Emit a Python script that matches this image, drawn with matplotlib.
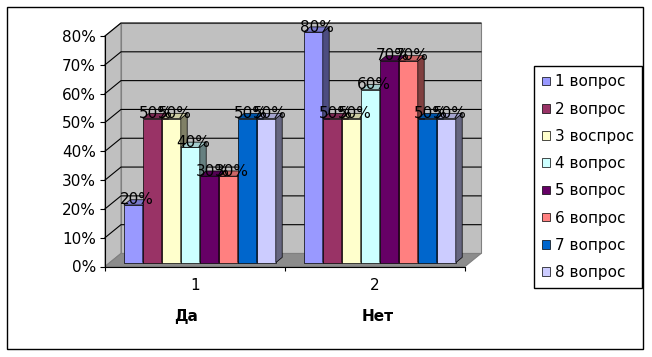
import numpy as np
import matplotlib
matplotlib.use('Agg')
import matplotlib.pyplot as plt
from matplotlib.patches import Polygon, Rectangle
from matplotlib.ticker import PercentFormatter

# Data
categories = ['1', '2']
answers = ['Да', 'Нет']
series = ['1 вопрос', '2 вопрос', '3 воспрос', '4 вопрос',
          '5 вопрос', '6 вопрос', '7 вопрос', '8 вопрос']
colors = ['#9999ff', '#993366', '#ffffcc', '#ccffff',
          '#660066', '#ff8080', '#0066cc', '#ccccff']
da = [0.2, 0.5, 0.5, 0.4, 0.3, 0.3, 0.5, 0.5]
net = [0.8, 0.5, 0.5, 0.6, 0.7, 0.7, 0.5, 0.5]
yticks = [0, 0.1, 0.2, 0.3, 0.4, 0.5, 0.6, 0.7, 0.8]


def shade(c, k):
    r, g, b = matplotlib.colors.to_rgb(c)
    return (r * k, g * k, b * k)


fig = plt.figure(figsize=(6.52, 3.57), dpi=100)
ax = fig.add_axes([105 / 652, (357 - 266.5) / 357, 360 / 652, 230.5 / 357])
ax.set_xlim(-0.5, 1.5)
ax.set_ylim(0, 0.8)
ax.patch.set_visible(False)

# pseudo 3d depth (in data units)
DX = 16 / 180
DY = 13 / 288.1
w = 19 / 180
z0, z1 = 0.3, 0.7
ddx, ddy = (z1 - z0) * DX, (z1 - z0) * DY

# walls and floor
ax.add_patch(Polygon([(-0.5 + DX, DY), (1.5 + DX, DY), (1.5 + DX, 0.8 + DY), (-0.5 + DX, 0.8 + DY)],
                     fc='#c0c0c0', ec='#808080', lw=0.8, clip_on=False, zorder=0))
ax.add_patch(Polygon([(-0.5, 0), (-0.5 + DX, DY), (-0.5 + DX, 0.8 + DY), (-0.5, 0.8)],
                     fc='#c0c0c0', ec='#808080', lw=0.8, clip_on=False, zorder=0))
ax.add_patch(Polygon([(-0.5, 0), (1.5, 0), (1.5 + DX, DY), (-0.5 + DX, DY)],
                     fc='#8c8c8c', ec='#808080', lw=0.8, clip_on=False, zorder=0))
for t in yticks[1:]:
    ax.plot([-0.5, -0.5 + DX, 1.5 + DX], [t, t + DY, t + DY], color='black', lw=0.8,
            clip_on=False, zorder=1)

x = np.arange(len(categories))
for i, name in enumerate(series):
    vals = [da[i], net[i]]
    xs = x + (i - 3.5) * w + z0 * DX
    bottom = z0 * DY
    ax.bar(xs, vals, w, bottom=bottom, color=colors[i], edgecolor='black', lw=0.5,
           label=name, zorder=3 + i, clip_on=False)
    for xc, v in zip(xs, vals):
        left, right, top = xc - w / 2, xc + w / 2, bottom + v
        ax.add_patch(Polygon([(right, bottom), (right + ddx, bottom + ddy), (right + ddx, top + ddy), (right, top)],
                             fc=shade(colors[i], 0.5), ec='black', lw=0.5, zorder=3 + i, clip_on=False))
        ax.add_patch(Polygon([(left, top), (right, top), (right + ddx, top + ddy), (left + ddx, top + ddy)],
                             fc=shade(colors[i], 0.8), ec='black', lw=0.5, zorder=3 + i, clip_on=False))
        ax.text(xc + ddx / 2, top + 5 / 288, f'{v:.0%}', ha='center', va='center',
                fontsize=11, color='black', zorder=30, clip_on=False)

# axes
for s in ['top', 'right']:
    ax.spines[s].set_visible(False)
for s in ['left', 'bottom']:
    ax.spines[s].set_linewidth(0.8)
    ax.spines[s].set_zorder(2)
ax.set_yticks(yticks)
ax.yaxis.set_major_formatter(PercentFormatter(1.0, decimals=0))
ax.tick_params(axis='y', length=3.6, width=0.8, pad=2.9, labelsize=11)
ax.set_xticks([-0.5, 0.5, 1.5])
ax.set_xticklabels(['', '', ''])
ax.tick_params(axis='x', which='major', length=2.9, width=0.8)
ax.set_xticks(x, minor=True)
ax.set_xticklabels(categories, minor=True)
ax.tick_params(axis='x', which='minor', length=0, pad=8.3, labelsize=11)

tr = ax.get_xaxis_transform()
ax.text(-0.05, -0.215, answers[0], transform=tr, ha='center', va='center',
        fontsize=11, fontweight='bold')
ax.text(1.015, -0.215, answers[1], transform=tr, ha='center', va='center',
        fontsize=11, fontweight='bold')

leg = fig.legend(loc='upper left', bbox_to_anchor=(534 / 652, 1 - 66 / 357),
                 fontsize=11, frameon=True, fancybox=False, framealpha=1,
                 edgecolor='black', handlelength=0.5, handleheight=0.5,
                 handletextpad=0.3, labelspacing=0.8, borderpad=0.55,
                 borderaxespad=0)
leg.get_frame().set_linewidth(1.0)

fig.add_artist(Rectangle((7 / 652, 1 - 349 / 357), 636 / 652, 342 / 357,
                         transform=fig.transFigure, fill=False, ec='black', lw=1))

fig.savefig('out.png', dpi=100)
